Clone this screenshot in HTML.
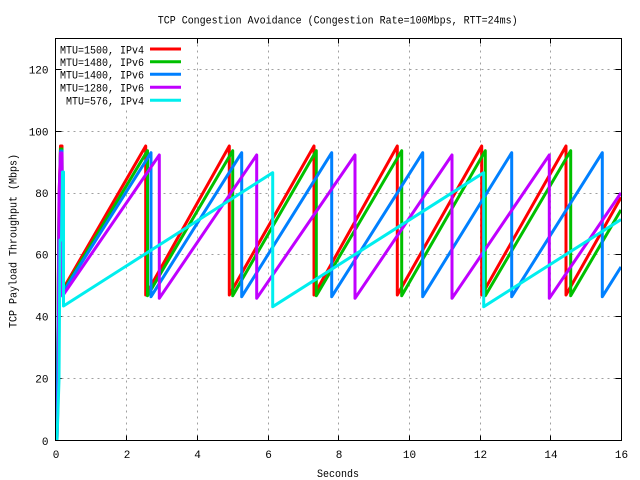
<!DOCTYPE html>
<html><head><meta charset="utf-8"><style>
html,body{margin:0;padding:0;background:#fff;}
svg{display:block;}
text{font-family:"Liberation Mono",monospace;font-size:11px;fill:#000;}
</style></head><body>
<svg width="640" height="480" viewBox="0 0 640 480" xmlns="http://www.w3.org/2000/svg">
<rect x="0" y="0" width="640" height="480" fill="#fff"/>
<defs><clipPath id="pc"><rect x="55.5" y="38.5" width="566" height="402"/></clipPath></defs>

<!-- grid -->
<g stroke="#a0a0a0" stroke-width="1" stroke-dasharray="2,4" fill="none">
<line x1="55.5" y1="378.5" x2="621.5" y2="378.5"/>
<line x1="55.5" y1="316.5" x2="621.5" y2="316.5"/>
<line x1="55.5" y1="254.5" x2="621.5" y2="254.5"/>
<line x1="55.5" y1="193.5" x2="621.5" y2="193.5"/>
<line x1="55.5" y1="131.5" x2="621.5" y2="131.5"/>
<line x1="55.5" y1="69.5" x2="621.5" y2="69.5"/>
<line x1="126.5" y1="38.5" x2="126.5" y2="440.5"/>
<line x1="197.5" y1="38.5" x2="197.5" y2="440.5"/>
<line x1="268.5" y1="38.5" x2="268.5" y2="440.5"/>
<line x1="338.5" y1="38.5" x2="338.5" y2="440.5"/>
<line x1="409.5" y1="38.5" x2="409.5" y2="440.5"/>
<line x1="480.5" y1="38.5" x2="480.5" y2="440.5"/>
<line x1="550.5" y1="38.5" x2="550.5" y2="440.5"/>
</g>

<!-- legend background -->
<rect x="56" y="39" width="127" height="69" fill="#fff"/>

<!-- ticks -->
<g stroke="#000" stroke-width="1">
<line x1="55.5" y1="378.5" x2="61.5" y2="378.5"/><line x1="621.5" y1="378.5" x2="615.5" y2="378.5"/>
<line x1="55.5" y1="316.5" x2="61.5" y2="316.5"/><line x1="621.5" y1="316.5" x2="615.5" y2="316.5"/>
<line x1="55.5" y1="254.5" x2="61.5" y2="254.5"/><line x1="621.5" y1="254.5" x2="615.5" y2="254.5"/>
<line x1="55.5" y1="193.5" x2="61.5" y2="193.5"/><line x1="621.5" y1="193.5" x2="615.5" y2="193.5"/>
<line x1="55.5" y1="131.5" x2="61.5" y2="131.5"/><line x1="621.5" y1="131.5" x2="615.5" y2="131.5"/>
<line x1="55.5" y1="69.5" x2="61.5" y2="69.5"/><line x1="621.5" y1="69.5" x2="615.5" y2="69.5"/>
<line x1="126.5" y1="440.5" x2="126.5" y2="435.5"/>
<line x1="197.5" y1="440.5" x2="197.5" y2="435.5"/><line x1="197.5" y1="38.5" x2="197.5" y2="43.5"/>
<line x1="268.5" y1="440.5" x2="268.5" y2="435.5"/><line x1="268.5" y1="38.5" x2="268.5" y2="43.5"/>
<line x1="338.5" y1="440.5" x2="338.5" y2="435.5"/><line x1="338.5" y1="38.5" x2="338.5" y2="43.5"/>
<line x1="409.5" y1="440.5" x2="409.5" y2="435.5"/><line x1="409.5" y1="38.5" x2="409.5" y2="43.5"/>
<line x1="480.5" y1="440.5" x2="480.5" y2="435.5"/><line x1="480.5" y1="38.5" x2="480.5" y2="43.5"/>
<line x1="550.5" y1="440.5" x2="550.5" y2="435.5"/><line x1="550.5" y1="38.5" x2="550.5" y2="43.5"/>
</g>

<!-- data -->
<g clip-path="url(#pc)" fill="none" stroke-width="3" stroke-linejoin="round">
<polyline stroke="#ff0000" points="57,440 59,200 60.5,146 62,146 62.5,290 145.7,146 145.7,295 229.3,146 229.3,295 314,146 314,295 397.3,146 397.3,295 481.7,146 481.7,295 566,146 566,295 621,197.4"/>
<polyline stroke="#00c000" points="57,440 59,210 60.5,149 62,149 62.5,292 147.5,150.7 147.5,295.7 232.7,150.7 232.7,295.7 316.3,150.7 316.3,295.7 401.7,150.7 401.7,295.7 485.3,150.7 485.3,295.7 570.7,150.7 570.7,295.7 621,209.9"/>
<polyline stroke="#0080ff" points="57,440 59,215 60.5,151 62,151 62.5,293 151,152.7 151,296.7 241.7,152.7 241.7,296.7 331.7,152.7 331.7,296.7 422.7,152.7 422.7,296.7 511.7,152.7 511.7,296.7 602.3,152.7 602.3,296.7 621,266.9"/>
<polyline stroke="#c000ff" points="57,440 58.5,380 59,196 60.5,153 62,153 62.5,296 159.3,155 159.3,298.3 256.7,155 256.7,298.3 355,155 355,298.3 452,155 452,298.3 549.3,155 549.3,298.3 621,192.9"/>
<polyline stroke="#00eeee" points="57,440 59,380 60,240 61.5,240 62.5,172 63.5,172 63.5,306 272.7,172.7 272.7,306.7 483.7,172.7 483.7,306.7 621,219.5"/>
</g>

<!-- border -->
<rect x="55.5" y="38.5" width="566" height="402" fill="none" stroke="#000" stroke-width="1"/>

<!-- legend -->
<g text-anchor="end">
<text x="144" y="53.3" textLength="84" lengthAdjust="spacingAndGlyphs">MTU=1500, IPv4</text>
<text x="144" y="66" textLength="84" lengthAdjust="spacingAndGlyphs">MTU=1480, IPv6</text>
<text x="144" y="78.6" textLength="84" lengthAdjust="spacingAndGlyphs">MTU=1400, IPv6</text>
<text x="144" y="91.6" textLength="84" lengthAdjust="spacingAndGlyphs">MTU=1280, IPv6</text>
<text x="144" y="104.4" textLength="78" lengthAdjust="spacingAndGlyphs">MTU=576, IPv4</text>
</g>
<g stroke-width="3">
<line x1="150" y1="49" x2="181" y2="49" stroke="#ff0000"/>
<line x1="150" y1="61.7" x2="181" y2="61.7" stroke="#00c000"/>
<line x1="150" y1="74.3" x2="181" y2="74.3" stroke="#0080ff"/>
<line x1="150" y1="87.3" x2="181" y2="87.3" stroke="#c000ff"/>
<line x1="150" y1="100.2" x2="181" y2="100.2" stroke="#00eeee"/>
</g>

<!-- title -->
<text x="157.7" y="23.5" textLength="360" lengthAdjust="spacingAndGlyphs">TCP Congestion Avoidance (Congestion Rate=100Mbps, RTT=24ms)</text>

<!-- y tick labels -->
<g text-anchor="end">
<text x="48.5" y="445">0</text>
<text x="48.5" y="382.5">20</text>
<text x="48.5" y="320.5">40</text>
<text x="48.5" y="258.5">60</text>
<text x="48.5" y="197">80</text>
<text x="48.5" y="135.3">100</text>
<text x="48.5" y="73.5">120</text>
</g>

<!-- x tick labels -->
<g text-anchor="middle">
<text x="56" y="458">0</text>
<text x="127" y="458">2</text>
<text x="197.5" y="458">4</text>
<text x="268.5" y="458">6</text>
<text x="339" y="458">8</text>
<text x="409.5" y="458">10</text>
<text x="480.5" y="458">12</text>
<text x="551" y="458">14</text>
<text x="621.5" y="458">16</text>
</g>

<text x="338" y="477" text-anchor="middle" textLength="42" lengthAdjust="spacingAndGlyphs">Seconds</text>
<text transform="translate(16.5,241) rotate(-90)" x="0" y="0" text-anchor="middle" textLength="174" lengthAdjust="spacingAndGlyphs">TCP Payload Throughput (Mbps)</text>
</svg>
</body></html>
